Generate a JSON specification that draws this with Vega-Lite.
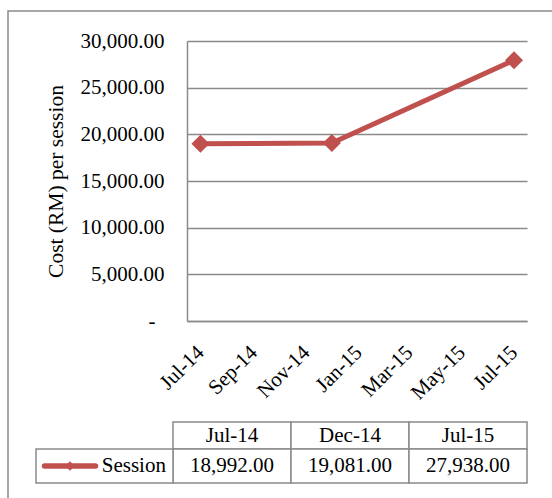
{
  "$schema": "https://vega.github.io/schema/vega-lite/v6.json",
  "width": 340,
  "height": 280,
  "autosize": "none",
  "padding": {"left": 187, "top": 41, "right": 25, "bottom": 177},
  "background": "white",
  "config": {"view": {"stroke": null}, "font": "Liberation Serif"},
  "datasets": {
    "sessions": [
      {"date": "2014-07-01T00:00:00", "label": "Jul-14", "series": "Session", "cost": 18992},
      {"date": "2014-12-01T00:00:00", "label": "Dec-14", "series": "Session", "cost": 19081},
      {"date": "2015-07-01T00:00:00", "label": "Jul-15", "series": "Session", "cost": 27938}
    ],
    "series": [{"series": "Session"}],
    "frame": [{"area": "chart area"}]
  },
  "layer": [
    {
      "data": {"name": "frame"},
      "mark": {"type": "rect", "fill": null, "stroke": "#8a8a8a", "strokeWidth": 1.5},
      "encoding": {
        "x": {"field": "area", "type": "nominal", "scale": {"type": "band", "range": [-179, 380], "paddingInner": 0, "paddingOuter": 0}, "axis": null},
        "y": {"field": "area", "type": "nominal", "scale": {"type": "band", "range": [-30, 470], "paddingInner": 0, "paddingOuter": 0}, "axis": null}
      }
    },
    {
      "data": {"name": "sessions"},
      "mark": {"type": "line", "color": "#C0504D", "strokeWidth": 5,
               "point": {"shape": "diamond", "size": 324, "filled": true, "color": "#C0504D"}},
      "encoding": {
        "x": {"field": "date", "type": "temporal",
              "scale": {"domain": [{"year": 2014, "month": 6, "date": 15, "hours": 8}, {"year": 2015, "month": 7, "date": 16, "hours": 3}]},
              "axis": {"orient": "bottom", "title": null,
                       "values": [{"year": 2014, "month": 7, "date": 1}, {"year": 2014, "month": 9, "date": 1}, {"year": 2014, "month": 11, "date": 1}, {"year": 2015, "month": 1, "date": 1}, {"year": 2015, "month": 3, "date": 1}, {"year": 2015, "month": 5, "date": 1}, {"year": 2015, "month": 7, "date": 1}],
                       "format": "%b-%y", "labelAngle": -45, "labelAlign": "right", "labelBaseline": "middle",
                       "labelPadding": 28, "ticks": false, "tickSize": 0, "grid": false,
                       "domainColor": "#8a8a8a", "domainWidth": 1.5,
                       "labelFont": "Liberation Serif", "labelFontSize": 21, "labelColor": "black",
                       "labelOverlap": false, "labelFlush": false, "labelBound": false}},
        "y": {"field": "cost", "type": "quantitative",
              "scale": {"domain": [0, 30000]},
              "axis": {"orient": "left", "title": "Cost (RM) per session",
                       "values": [0, 5000, 10000, 15000, 20000, 25000, 30000],
                       "labelExpr": "datum.value === 0 ? '-' : format(datum.value, ',.2f')",
                       "ticks": false, "tickSize": 0,
                       "labelPadding": {"condition": {"test": "datum.value === 0", "value": 32}, "value": 23},
                       "grid": true, "gridColor": "#8a8a8a", "gridWidth": 1.5,
                       "domainColor": "#8a8a8a", "domainWidth": 1.5,
                       "labelFont": "Liberation Serif", "labelFontSize": 21, "labelColor": "black",
                       "titleFont": "Liberation Serif", "titleFontSize": 21.5, "titleFontWeight": "normal",
                       "titleColor": "black", "titlePadding": 13}}
      }
    },
    {
      "data": {"name": "sessions"},
      "mark": {"type": "rect", "fill": "white", "stroke": "#8a8a8a", "strokeWidth": 1.5},
      "encoding": {
        "x": {"field": "label", "type": "nominal", "sort": null, "scale": {"type": "band", "range": [-14, 340], "paddingInner": 0, "paddingOuter": 0}, "axis": null},
        "y": {"field": "series", "type": "nominal", "scale": {"type": "band", "range": [381, 408], "paddingInner": 0, "paddingOuter": 0}, "axis": null}
      }
    },
    {
      "data": {"name": "sessions"},
      "mark": {"type": "text", "font": "Liberation Serif", "fontSize": 21, "color": "black", "align": "center", "baseline": "middle"},
      "encoding": {
        "x": {"field": "label", "type": "nominal", "sort": null, "scale": {"type": "band", "range": [-14, 340], "paddingInner": 0, "paddingOuter": 0}, "axis": null},
        "y": {"field": "series", "type": "nominal", "scale": {"type": "band", "range": [381, 408], "paddingInner": 0, "paddingOuter": 0}, "axis": null},
        "text": {"field": "label"}
      }
    },
    {
      "data": {"name": "sessions"},
      "mark": {"type": "rect", "fill": "white", "stroke": "#8a8a8a", "strokeWidth": 1.5},
      "encoding": {
        "x": {"field": "label", "type": "nominal", "sort": null, "scale": {"type": "band", "range": [-14, 340], "paddingInner": 0, "paddingOuter": 0}, "axis": null},
        "y": {"field": "series", "type": "nominal", "scale": {"type": "band", "range": [408, 442], "paddingInner": 0, "paddingOuter": 0}, "axis": null}
      }
    },
    {
      "data": {"name": "sessions"},
      "mark": {"type": "text", "font": "Liberation Serif", "fontSize": 21, "color": "black", "align": "center", "baseline": "middle"},
      "encoding": {
        "x": {"field": "label", "type": "nominal", "sort": null, "scale": {"type": "band", "range": [-14, 340], "paddingInner": 0, "paddingOuter": 0}, "axis": null},
        "y": {"field": "series", "type": "nominal", "scale": {"type": "band", "range": [408, 442], "paddingInner": 0, "paddingOuter": 0}, "axis": null},
        "text": {"field": "cost", "type": "quantitative", "format": ",.2f"}
      }
    },
    {
      "data": {"name": "series"},
      "mark": {"type": "rect", "fill": "white", "stroke": "#8a8a8a", "strokeWidth": 1.5},
      "encoding": {
        "x": {"field": "series", "type": "nominal", "scale": {"type": "band", "range": [-151, -14], "paddingInner": 0, "paddingOuter": 0}, "axis": null},
        "y": {"field": "series", "type": "nominal", "scale": {"type": "band", "range": [408, 442], "paddingInner": 0, "paddingOuter": 0}, "axis": null}
      }
    },
    {
      "data": {"name": "series"},
      "mark": {"type": "point", "shape": "stroke", "size": 2601, "strokeWidth": 5.5, "color": "#C0504D", "filled": false, "strokeCap": "round", "opacity": 1},
      "encoding": {
        "x": {"field": "series", "type": "nominal", "bandPosition": 0.248, "scale": {"type": "band", "range": [-151, -14], "paddingInner": 0, "paddingOuter": 0}, "axis": null},
        "y": {"field": "series", "type": "nominal", "scale": {"type": "band", "range": [408, 442], "paddingInner": 0, "paddingOuter": 0}, "axis": null}
      }
    },
    {
      "data": {"name": "series"},
      "mark": {"type": "point", "shape": "diamond", "size": 90, "filled": true, "color": "#C0504D", "opacity": 1},
      "encoding": {
        "x": {"field": "series", "type": "nominal", "bandPosition": 0.248, "scale": {"type": "band", "range": [-151, -14], "paddingInner": 0, "paddingOuter": 0}, "axis": null},
        "y": {"field": "series", "type": "nominal", "scale": {"type": "band", "range": [408, 442], "paddingInner": 0, "paddingOuter": 0}, "axis": null}
      }
    },
    {
      "data": {"name": "series"},
      "mark": {"type": "text", "font": "Liberation Serif", "fontSize": 21, "color": "black", "align": "left", "baseline": "middle"},
      "encoding": {
        "x": {"field": "series", "type": "nominal", "bandPosition": 0.48, "scale": {"type": "band", "range": [-151, -14], "paddingInner": 0, "paddingOuter": 0}, "axis": null},
        "y": {"field": "series", "type": "nominal", "scale": {"type": "band", "range": [408, 442], "paddingInner": 0, "paddingOuter": 0}, "axis": null},
        "text": {"field": "series"}
      }
    }
  ],
  "resolve": {"scale": {"x": "independent", "y": "independent"}}
}
